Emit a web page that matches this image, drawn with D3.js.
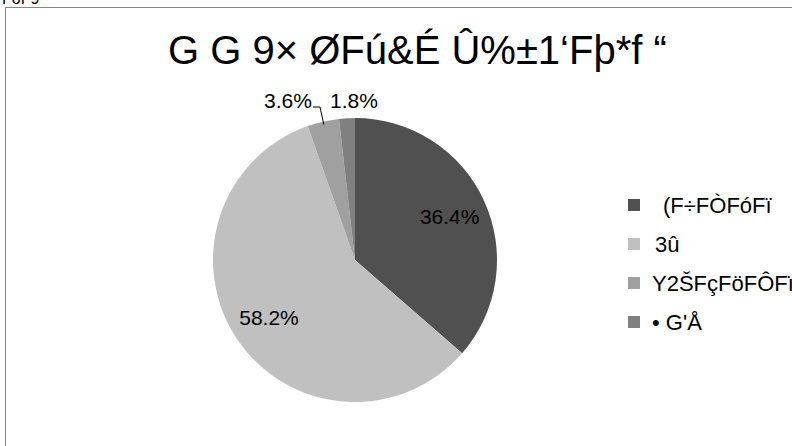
<!DOCTYPE html>
<html><head><meta charset="utf-8">
<script src="https://cdn.jsdelivr.net/npm/d3@7"></script>
<style>body{margin:0;background:#fff}svg{display:block;font-family:"Liberation Sans",Arial,sans-serif}</style>
</head><body><svg id="c" width="792" height="446"></svg>
<script>
const categories = ["(F÷FÒFóFï", "3û", "Y2ŠFçFöFÔFï", "• G'Å"];
const values = [36.4, 58.2, 3.6, 1.8];
const labels = ["36.4%", "58.2%", "3.6%", "1.8%"];
const colors = ["#505050", "#c0c0c0", "#a0a0a0", "#808080"];
const title = "G G 9× ØFú&É Û%±1‘Fþ*f “";

const svg = d3.select("#c");
svg.append("text").attr("x", 2).attr("y", 4).attr("font-size", 16).attr("fill", "#000").text("FöF9");
svg.append("rect").attr("x", 5.5).attr("y", 7.5).attr("width", 900).attr("height", 500)
  .attr("fill", "#fff").attr("stroke", "#868686").attr("stroke-width", 1);

svg.append("text").attr("x", 168).attr("y", 64)
  .attr("font-size", 40).attr("fill", "#000").text(title);

const cx = 355, cy = 260, r = 142;
const pie = d3.pie().sort(null).value(d => d)(values);
const arc = d3.arc().innerRadius(0).outerRadius(r);
const labelArc = d3.arc().innerRadius(104).outerRadius(104);
const g = svg.append("g").attr("transform", `translate(${cx},${cy})`);
g.selectAll("path").data(pie).join("path").attr("d", arc).attr("fill", (d, i) => colors[i]);

// inside labels for the two large slices
g.selectAll("text.in").data(pie.slice(0, 2)).join("text").attr("class", "in")
  .attr("x", d => labelArc.centroid(d)[0]).attr("y", d => labelArc.centroid(d)[1] + 7)
  .attr("text-anchor", "middle").attr("font-size", 21).attr("fill", "#000")
  .text((d, i) => labels[i]);

// outside labels for the small slices
svg.append("text").attr("x", 288).attr("y", 108).attr("text-anchor", "middle")
  .attr("font-size", 21).attr("fill", "#000").text(labels[2]);
svg.append("text").attr("x", 354).attr("y", 108).attr("text-anchor", "middle")
  .attr("font-size", 21).attr("fill", "#000").text(labels[3]);

// leader line for 3.6%
const mid = (pie[2].startAngle + pie[2].endAngle) / 2;
const ex = cx + Math.sin(mid) * (r - 3), ey = cy - Math.cos(mid) * (r - 3);
svg.append("path").attr("d", `M313,107 L320,107 L${ex},${ey}`).attr("fill", "none")
  .attr("stroke", "#000").attr("stroke-width", 1);

const ly = [205, 244, 283, 322];
const textX = [663, 655, 652, 652];
const leg = svg.append("g");
categories.forEach((c, i) => {
  leg.append("rect").attr("x", 628).attr("y", ly[i] - 6).attr("width", 12).attr("height", 12).attr("fill", colors[i]);
  leg.append("text").attr("x", textX[i]).attr("y", ly[i] + 8).attr("font-size", 22).attr("fill", "#000").text(c);
});
</script></body></html>
